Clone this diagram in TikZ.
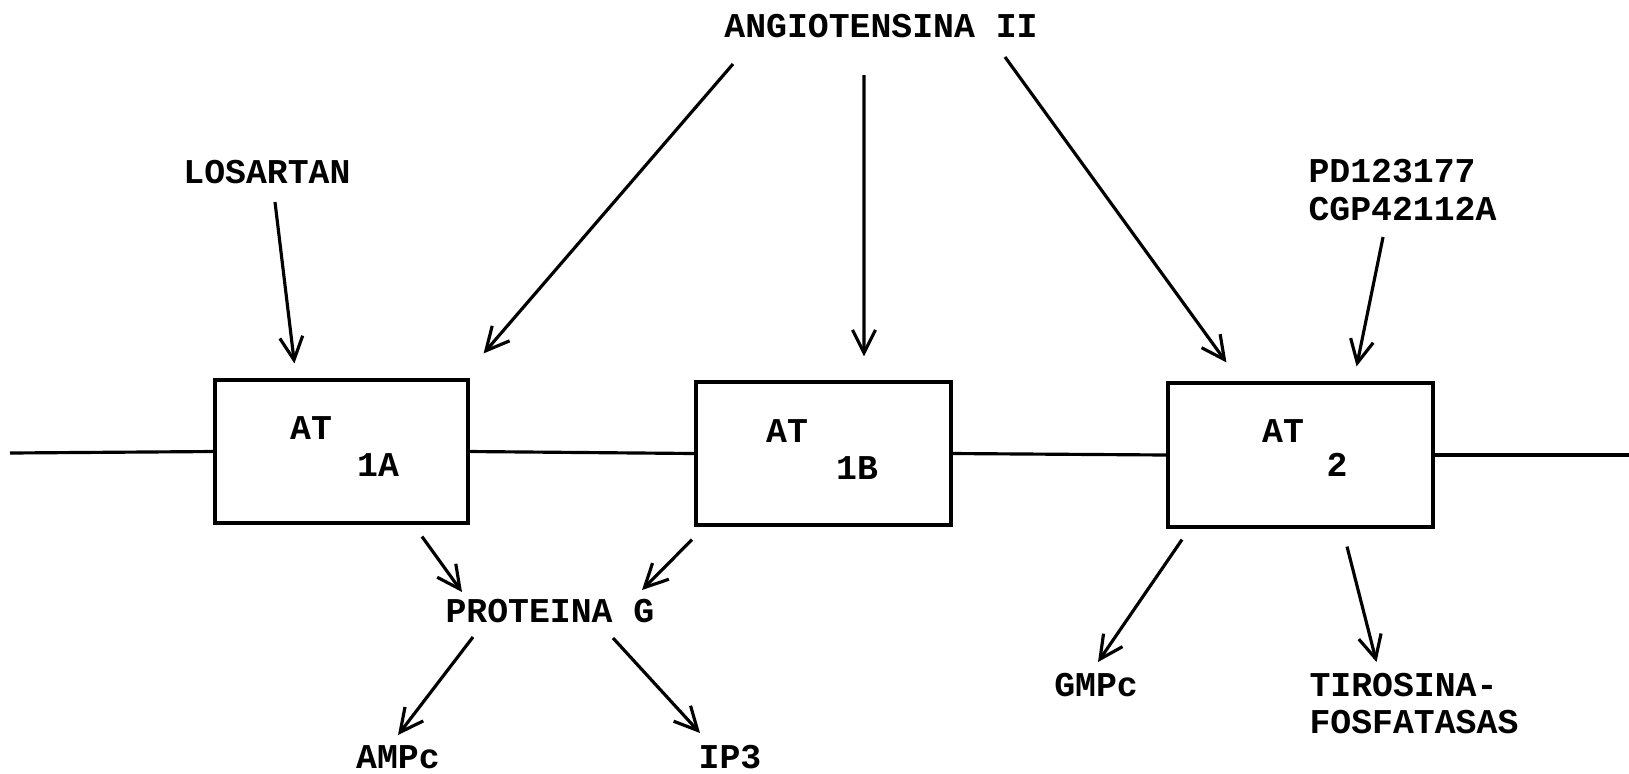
\documentclass[tikz,border=0pt]{standalone}
\usepackage{fontspec}
\usepackage{tikz}
\usetikzlibrary{positioning, arrows.meta}
\newfontfamily\typew{Liberation Mono}
\tikzset{every picture/.append style={line width=0.9pt}}
\tikzset{
    lbl/.style={font=\typew\bfseries\fontsize{9.9}{10.6}\selectfont, inner sep=0pt, align=left},
    rec/.style={draw, minimum width=2.55cm, minimum height=1.43cm, inner sep=0pt},
}

\begin{document}
\begin{tikzpicture}[>={Straight Barb[length=2.3mm,width=2.3mm]}]
    \useasboundingbox (0,0) rectangle (16.29,-7.73);

    % ---------------------------------------------------
    % 1. Receptors on the membrane
    % ---------------------------------------------------
    \node[rec, minimum width=2.53cm] (at1a) at (3.415,-4.515) {};
    \node[rec] (at1b) at (8.235,-4.535) {};
    \node[rec, minimum width=2.65cm, minimum height=1.44cm] (at2) at (13.005,-4.55) {};

    \node[lbl] (at1aT) at (3.11,-4.28) {AT};
    \node[lbl] (at1aS) at (3.78,-4.65) {1A};
    \node[lbl] (at1bT) at (7.87,-4.31) {AT};
    \node[lbl] (at1bS) at (8.57,-4.68) {1B};
    \node[lbl] (at2T) at (12.83,-4.31) {AT};
    \node[lbl] (at2S) at (13.37,-4.65) {2};

    % membrane line
    \coordinate (mL) at (0.10,-4.53);
    \coordinate (mR) at (16.29,-4.55);
    \draw (mL) -- (at1a.west);
    \draw (at1a.east) -- (at1b.west);
    \draw (at1b.east) -- (at2.west);
    \draw (at2.east) -- (mR);

    % ---------------------------------------------------
    % 2. Ligands
    % ---------------------------------------------------
    \node[lbl] (angio) at (8.81,-0.26) {ANGIOTENSINA II};
    \node[lbl] (losartan) at (2.67,-1.72) {LOSARTAN};
    \node[lbl, anchor=west] (pd) at (13.07,-1.90) {PD123177\\CGP42112A};

    \draw[->] ([shift={(0.08,-0.30)}]losartan.center) -- ([shift={(0.81,0.15)}]at1a.north west);
    \draw[->] ([shift={(-1.48,-0.38)}]angio.center) -- ([shift={(0.14,0.25)}]at1a.north east);
    \draw[->] ([shift={(-0.17,-0.49)}]angio.center) -- ([shift={(0.405,0.24)}]at1b.north);
    \draw[->] ([shift={(1.24,-0.31)}]angio.center) -- ([shift={(0.60,0.19)}]at2.north west);
    \draw[->] ([shift={(-0.195,-0.47)}]pd.center) -- ([shift={(-0.78,0.15)}]at2.north east);

    % ---------------------------------------------------
    % 3. Second messengers
    % ---------------------------------------------------
    \node[lbl] (prot) at (5.50,-6.11) {PROTEINA G};
    \node[lbl] (ampc) at (3.98,-7.57) {AMPc};
    \node[lbl] (ip3) at (7.30,-7.57) {IP3};
    \node[lbl] (gmpc) at (10.96,-6.85) {GMPc};
    \node[lbl, anchor=west] (tiros) at (13.08,-7.035) {TIROSINA-\\FOSFATASAS};

    \draw[->] ([shift={(0.805,-0.12)}]at1a.south) -- ([shift={(-0.88,0.19)}]prot.center);
    \draw[->] ([shift={(-1.315,-0.13)}]at1b.south) -- ([shift={(0.92,0.21)}]prot.center);
    \draw[->] ([shift={(-0.77,-0.26)}]prot.center) -- ([shift={(0,0.22)}]ampc.center);
    \draw[->] ([shift={(0.63,-0.27)}]prot.center) -- ([shift={(-0.30,0.24)}]ip3.center);
    \draw[->] ([shift={(-1.185,-0.11)}]at2.south) -- ([shift={(0.02,0.23)}]gmpc.center);
    \draw[->] ([shift={(0.465,-0.18)}]at2.south) -- ([shift={(-0.375,0.415)}]tiros.center);

\end{tikzpicture}
\end{document}
